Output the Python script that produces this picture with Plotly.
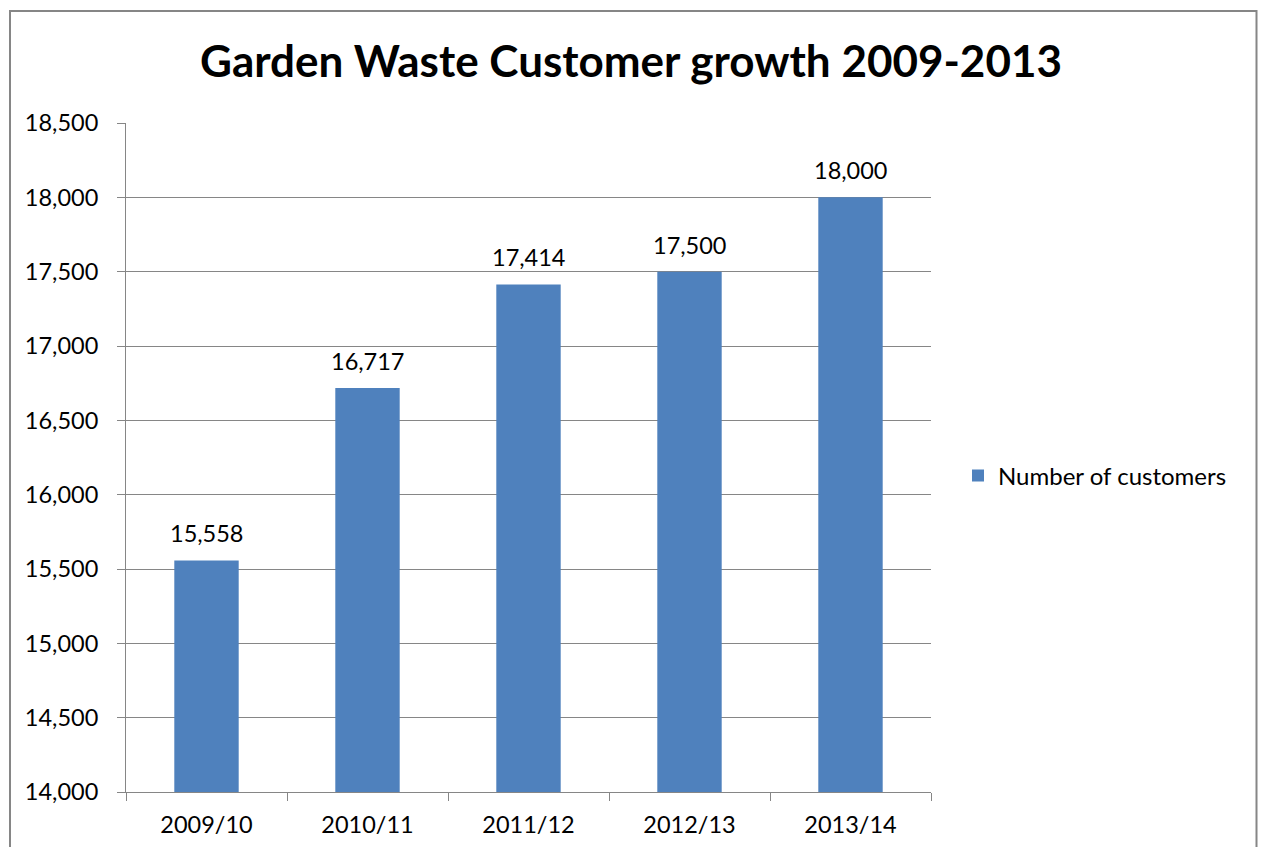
import plotly.graph_objects as go

categories = ["2009/10", "2010/11", "2011/12", "2012/13", "2013/14"]
customers = [15558, 16717, 17414, 17500, 18000]
series_name = "Number of customers"
title_text = "Garden Waste Customer growth 2009-2013"
y_ticks = list(range(14000, 18501, 500))

FONT = "Lato"
FS = 23.5
GRAY = "#868686"
BAR = "#4F81BD"

fig = go.Figure()
fig.add_trace(go.Bar(
    x=categories, y=customers, name=series_name,
    marker=dict(color=BAR, line=dict(width=0)),
    width=0.4, showlegend=True,
))

for c, v in zip(categories, customers):
    fig.add_annotation(x=c, y=v, text=f"{v:,}", showarrow=False,
                       yanchor="bottom", yshift=11,
                       font=dict(family=FONT, size=FS, color="#000"))

W, H = 1262, 847
L, R, T, B = 126, 331, 123, 55
pw, ph = W - L - R, H - T - B

def px_x(p):
    return (p - L) / pw

def px_y(p):
    return (H - B - p) / ph

fig.add_shape(type="rect", xref="paper", yref="paper",
              x0=px_x(10), x1=px_x(1256.5), y0=px_y(870), y1=px_y(11),
              line=dict(color=GRAY, width=2), fillcolor="rgba(0,0,0,0)", layer="below")

fig.update_layout(
    width=W, height=H,
    margin=dict(l=L, r=R, t=T, b=B),
    paper_bgcolor="white", plot_bgcolor="white",
    font=dict(family=FONT, size=FS, color="#000"),
    title=dict(text=f"<b>{title_text}</b>", x=0.5, xanchor="center",
               y=1 - 62 / H, yanchor="middle", yref="container",
               font=dict(family=FONT, size=44, color="#000")),
    legend=dict(x=px_x(958), xanchor="left", y=px_y(476), yanchor="middle",
                font=dict(family=FONT, size=FS + 0.5, color="#000"),
                bgcolor="rgba(0,0,0,0)"),
    bargap=0.6,
)
fig.update_xaxes(showline=True, linecolor=GRAY, linewidth=1,
                 ticks="outside", ticklen=8, tickcolor=GRAY, tickson="boundaries",
                 showgrid=False, ticklabelstandoff=12, automargin=False,
                 tickfont=dict(family=FONT, size=FS, color="#000"))
fig.update_yaxes(range=[14000, 18500], tickvals=y_ticks,
                 ticktext=[f"{v:,}" for v in y_ticks],
                 showline=True, linecolor=GRAY, linewidth=1,
                 ticks="outside", ticklen=8, tickcolor=GRAY,
                 showgrid=True, gridcolor=GRAY, gridwidth=1, zeroline=False,
                 ticklabelstandoff=14, automargin=False,
                 tickfont=dict(family=FONT, size=FS, color="#000"))

fig.write_html("out.html")
